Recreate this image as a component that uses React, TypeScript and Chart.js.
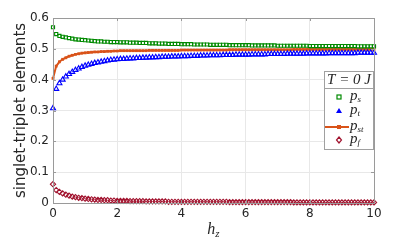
import React, { useEffect, useRef } from "react";
import { Chart, registerables } from "chart.js";

Chart.register(...registerables);

const hz = [
  0, 0.1, 0.2, 0.3, 0.4, 0.5, 0.6, 0.7, 0.8, 0.9,
  1, 1.1, 1.2, 1.3, 1.4, 1.5, 1.6, 1.7, 1.8, 1.9,
  2, 2.1, 2.2, 2.3, 2.4, 2.5, 2.6, 2.7, 2.8, 2.9,
  3, 3.1, 3.2, 3.3, 3.4, 3.5, 3.6, 3.7, 3.8, 3.9,
  4, 4.1, 4.2, 4.3, 4.4, 4.5, 4.6, 4.7, 4.8, 4.9,
  5, 5.1, 5.2, 5.3, 5.4, 5.5, 5.6, 5.7, 5.8, 5.9,
  6, 6.1, 6.2, 6.3, 6.4, 6.5, 6.6, 6.7, 6.8, 6.9,
  7, 7.1, 7.2, 7.3, 7.4, 7.5, 7.6, 7.7, 7.8, 7.9,
  8, 8.1, 8.2, 8.3, 8.4, 8.5, 8.6, 8.7, 8.8, 8.9,
  9, 9.1, 9.2, 9.3, 9.4, 9.5, 9.6, 9.7, 9.8, 9.9,
  10,
];

const ps = [
  0.570, 0.548, 0.542, 0.539, 0.537, 0.535, 0.533, 0.531, 0.530, 0.529,
  0.528, 0.527, 0.526, 0.525, 0.524, 0.524, 0.523, 0.523, 0.522, 0.522,
  0.522, 0.521, 0.521, 0.521, 0.520, 0.520, 0.520, 0.519, 0.519, 0.519,
  0.518, 0.518, 0.518, 0.517, 0.517, 0.517, 0.516, 0.516, 0.516, 0.516,
  0.515, 0.515, 0.515, 0.515, 0.514, 0.514, 0.514, 0.514, 0.514, 0.513,
  0.513, 0.513, 0.513, 0.513, 0.513, 0.512, 0.512, 0.512, 0.512, 0.512,
  0.512, 0.512, 0.511, 0.511, 0.511, 0.511, 0.511, 0.511, 0.511, 0.511,
  0.510, 0.510, 0.510, 0.510, 0.510, 0.510, 0.510, 0.510, 0.510, 0.510,
  0.509, 0.509, 0.509, 0.509, 0.509, 0.509, 0.509, 0.509, 0.509, 0.509,
  0.509, 0.509, 0.509, 0.509, 0.509, 0.508, 0.508, 0.508, 0.508, 0.508,
  0.508,
];

const pt = [
  0.307, 0.370, 0.388, 0.400, 0.410, 0.418, 0.425, 0.431, 0.436, 0.441,
  0.445, 0.448, 0.451, 0.454, 0.456, 0.458, 0.460, 0.462, 0.464, 0.465,
  0.466, 0.467, 0.467, 0.468, 0.469, 0.469, 0.470, 0.470, 0.471, 0.471,
  0.472, 0.472, 0.473, 0.473, 0.474, 0.474, 0.474, 0.475, 0.475, 0.475,
  0.476, 0.476, 0.476, 0.477, 0.477, 0.477, 0.478, 0.478, 0.478, 0.479,
  0.479, 0.479, 0.479, 0.480, 0.480, 0.480, 0.480, 0.481, 0.481, 0.481,
  0.481, 0.481, 0.482, 0.482, 0.482, 0.482, 0.482, 0.483, 0.483, 0.483,
  0.483, 0.483, 0.483, 0.484, 0.484, 0.484, 0.484, 0.484, 0.484, 0.485,
  0.485, 0.485, 0.485, 0.485, 0.485, 0.485, 0.486, 0.486, 0.486, 0.486,
  0.486, 0.486, 0.486, 0.486, 0.486, 0.487, 0.487, 0.487, 0.487, 0.487,
  0.487,
];

const pst = [
  0.404, 0.444, 0.458, 0.466, 0.471, 0.476, 0.479, 0.482, 0.484, 0.486,
  0.487, 0.488, 0.489, 0.490, 0.490, 0.491, 0.491, 0.492, 0.492, 0.493,
  0.493, 0.494, 0.494, 0.494, 0.494, 0.494, 0.494, 0.494, 0.494, 0.494,
  0.495, 0.495, 0.495, 0.495, 0.495, 0.495, 0.495, 0.495, 0.495, 0.495,
  0.496, 0.496, 0.496, 0.496, 0.496, 0.496, 0.496, 0.496, 0.496, 0.496,
  0.496, 0.496, 0.496, 0.496, 0.496, 0.497, 0.497, 0.497, 0.497, 0.497,
  0.497, 0.497, 0.497, 0.497, 0.497, 0.497, 0.497, 0.497, 0.497, 0.497,
  0.497, 0.497, 0.497, 0.497, 0.497, 0.498, 0.498, 0.498, 0.498, 0.498,
  0.498, 0.498, 0.498, 0.498, 0.498, 0.498, 0.498, 0.498, 0.498, 0.498,
  0.498, 0.498, 0.498, 0.498, 0.498, 0.498, 0.498, 0.498, 0.498, 0.498,
  0.498,
];

const pf = [
  0.061, 0.042, 0.036, 0.031, 0.027, 0.024, 0.021, 0.019, 0.017, 0.016,
  0.014, 0.013, 0.012, 0.011, 0.010, 0.010, 0.009, 0.009, 0.008, 0.008,
  0.007, 0.007, 0.007, 0.007, 0.006, 0.006, 0.006, 0.006, 0.006, 0.005,
  0.005, 0.005, 0.005, 0.005, 0.005, 0.005, 0.004, 0.004, 0.004, 0.004,
  0.004, 0.004, 0.004, 0.004, 0.004, 0.004, 0.004, 0.004, 0.004, 0.004,
  0.004, 0.004, 0.004, 0.004, 0.004, 0.003, 0.003, 0.003, 0.003, 0.003,
  0.003, 0.003, 0.003, 0.003, 0.003, 0.003, 0.003, 0.003, 0.003, 0.003,
  0.003, 0.003, 0.003, 0.003, 0.003, 0.002, 0.002, 0.002, 0.002, 0.002,
  0.002, 0.002, 0.002, 0.002, 0.002, 0.002, 0.002, 0.002, 0.002, 0.002,
  0.002, 0.002, 0.002, 0.002, 0.002, 0.002, 0.002, 0.002, 0.002, 0.002,
  0.002,
];

const seriesNames = ["s", "t", "st", "f"];
const legendTitle = "T = 0 J";
const yTitle = "singlet-triplet elements";
const xTitleMain = "h";
const xTitleSub = "z";

const GREEN = "#008a00";
const BLUE = "#0000ff";
const ORANGE = "#d95319";
const RED = "#a2142f";
const TEXT = "#262626";
const AXIS = "#9a9a9a";
const GRID = "#e8e8e8";

const toXY = (ys: number[]) => hz.map((x, i) => ({ x, y: ys[i] }));

function drawMarker(ctx: CanvasRenderingContext2D, kind: string, x: number, y: number) {
  ctx.save();
  ctx.lineWidth = 1.2;
  if (kind === "s") {
    ctx.strokeStyle = GREEN;
    ctx.strokeRect(x - 2, y - 2, 4, 4);
  } else if (kind === "t") {
    ctx.fillStyle = BLUE;
    ctx.beginPath();
    ctx.moveTo(x, y - 3);
    ctx.lineTo(x + 3, y + 2);
    ctx.lineTo(x - 3, y + 2);
    ctx.closePath();
    ctx.fill();
  } else if (kind === "st") {
    ctx.strokeStyle = ORANGE;
    ctx.lineWidth = 2;
    ctx.beginPath();
    ctx.moveTo(325, y);
    ctx.lineTo(349, y);
    ctx.stroke();
    ctx.fillStyle = ORANGE;
    ctx.fillRect(x - 2, y - 2, 4, 4);
  } else {
    ctx.strokeStyle = RED;
    ctx.beginPath();
    ctx.moveTo(x, y - 3);
    ctx.lineTo(x + 2.5, y);
    ctx.lineTo(x, y + 3);
    ctx.lineTo(x - 2.5, y);
    ctx.closePath();
    ctx.stroke();
  }
  ctx.restore();
}

const framePlugin = {
  id: "frame",
  afterDraw(chart: any) {
    const { ctx, chartArea: a, scales } = chart;
    ctx.save();
    ctx.strokeStyle = AXIS;
    ctx.lineWidth = 1;
    ctx.strokeRect(Math.round(a.left) + 0.5, Math.round(a.top) + 0.5, Math.round(a.right - a.left), Math.round(a.bottom - a.top));
    ctx.beginPath();
    scales.x.ticks.forEach((t: any) => {
      const px = Math.round(scales.x.getPixelForValue(t.value)) + 0.5;
      ctx.moveTo(px, a.bottom);
      ctx.lineTo(px, a.bottom - 3);
      ctx.moveTo(px, a.top);
      ctx.lineTo(px, a.top + 3);
    });
    scales.y.ticks.forEach((t: any) => {
      const py = Math.round(scales.y.getPixelForValue(t.value)) + 0.5;
      ctx.moveTo(a.left, py);
      ctx.lineTo(a.left + 3, py);
      ctx.moveTo(a.right, py);
      ctx.lineTo(a.right - 3, py);
    });
    ctx.stroke();

    ctx.fillStyle = TEXT;
    ctx.font = "15px 'DejaVu Sans'";
    ctx.textAlign = "center";
    ctx.textBaseline = "middle";
    ctx.save();
    ctx.translate(21, (a.top + a.bottom) / 2);
    ctx.rotate(-Math.PI / 2);
    ctx.fillText(yTitle, 0, 0);
    ctx.restore();

    const cx = (a.left + a.right) / 2;
    ctx.textAlign = "left";
    ctx.textBaseline = "alphabetic";
    ctx.font = "italic 16px 'Liberation Serif'";
    const hw = ctx.measureText(xTitleMain).width;
    ctx.font = "italic 11px 'Liberation Serif'";
    const zw = ctx.measureText(xTitleSub).width;
    const x0 = cx - (hw + zw) / 2;
    ctx.font = "italic 16px 'Liberation Serif'";
    ctx.fillText(xTitleMain, x0, 234);
    ctx.font = "italic 11px 'Liberation Serif'";
    ctx.fillText(xTitleSub, x0 + hw, 237);

    const lx = 324.5, ly = 71.5, lw = 49, lh = 78;
    ctx.fillStyle = "#ffffff";
    ctx.fillRect(lx, ly, lw, lh);
    ctx.strokeStyle = "#a0a0a0";
    ctx.strokeRect(lx, ly, lw, lh);
    ctx.beginPath();
    ctx.moveTo(lx, 88.5);
    ctx.lineTo(lx + lw, 88.5);
    ctx.stroke();
    ctx.fillStyle = TEXT;
    ctx.font = "italic 15px 'Liberation Serif'";
    ctx.textAlign = "center";
    ctx.textBaseline = "middle";
    ctx.fillText(legendTitle, lx + lw / 2, 80.5);
    const rows = [97, 111, 127, 140];
    seriesNames.forEach((n, i) => {
      const y = rows[i];
      drawMarker(ctx, n, 339, y);
      ctx.fillStyle = TEXT;
      ctx.textAlign = "left";
      ctx.textBaseline = "alphabetic";
      ctx.font = "italic 15px 'Liberation Serif'";
      ctx.fillText("p", 350, y + 3);
      const pw = ctx.measureText("p").width;
      ctx.font = "italic 9px 'Liberation Serif'";
      ctx.fillText(n, 350 + pw, y + 5);
    });
    ctx.restore();
  },
};

export default function App() {
  const ref = useRef<HTMLCanvasElement>(null);
  useEffect(() => {
    document.body.style.margin = "0";
    const canvas = ref.current!;
    const chart = new Chart(canvas, {
      type: "line",
      data: {
        datasets: [
          {
            label: "ps",
            data: toXY(ps),
            showLine: false,
            pointStyle: "rect",
            pointRadius: 2.2,
            pointBorderWidth: 1.1,
            pointBorderColor: GREEN,
            pointBackgroundColor: "rgba(255,255,255,0)",
            borderColor: GREEN,
          },
          {
            label: "pt",
            data: toXY(pt),
            showLine: false,
            pointStyle: "triangle",
            pointRadius: 2.9,
            pointBorderWidth: 1.1,
            pointBorderColor: BLUE,
            pointBackgroundColor: "rgba(255,255,255,0)",
            borderColor: BLUE,
          },
          {
            label: "pst",
            data: toXY(pst),
            showLine: true,
            borderColor: ORANGE,
            borderWidth: 2,
            pointStyle: "rect",
            pointRadius: 2,
            pointBorderWidth: 0,
            pointBackgroundColor: ORANGE,
            tension: 0,
          },
          {
            label: "pf",
            data: toXY(pf),
            showLine: false,
            pointStyle: "rectRot",
            pointRadius: 2.6,
            pointBorderWidth: 1.1,
            pointBorderColor: RED,
            pointBackgroundColor: "rgba(255,255,255,0)",
            borderColor: RED,
          },
        ],
      },
      options: {
        animation: false,
        responsive: false,
        events: [],
        clip: false,
        layout: { padding: { top: 18, right: 41, left: 0, bottom: 0 } },
        plugins: { legend: { display: false }, tooltip: { enabled: false } },
        scales: {
          x: {
            type: "linear",
            min: 0,
            max: 10,
            afterFit: (s: any) => { s.height = 39; },
            afterBuildTicks: (s: any) => { s.ticks = [0, 2, 4, 6, 8, 10].map((v) => ({ value: v })); },
            ticks: { color: TEXT, font: { family: "'DejaVu Sans'", size: 12 }, padding: 4, maxRotation: 0 },
            grid: { color: GRID, drawTicks: false },
            border: { display: false },
          },
          y: {
            type: "linear",
            min: 0,
            max: 0.6,
            afterFit: (s: any) => { s.width = 53; },
            afterBuildTicks: (s: any) => { s.ticks = [0, 0.1, 0.2, 0.3, 0.4, 0.5, 0.6].map((v) => ({ value: v })); },
            ticks: {
              color: TEXT,
              font: { family: "'DejaVu Sans'", size: 12 },
              padding: 4,
              callback: (v: any) => (Number(v) === 0 ? "0" : Number(v).toFixed(1)),
            },
            grid: { color: GRID, drawTicks: false },
            border: { display: false },
          },
        },
      },
      plugins: [framePlugin],
    } as any);
    return () => chart.destroy();
  }, []);
  return (
    <div style={{ position: "absolute", left: 0, top: 0, width: 415, height: 242, background: "#fff" }}>
      <canvas ref={ref} width={415} height={242} style={{ width: 415, height: 242, display: "block" }} />
    </div>
  );
}
